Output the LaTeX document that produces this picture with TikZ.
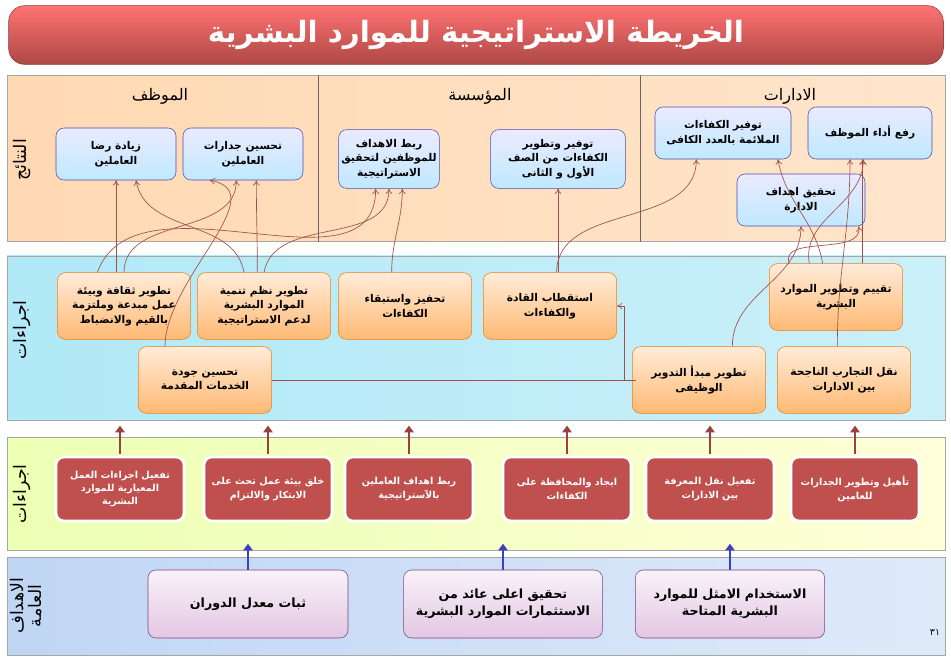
\documentclass[tikz,border=0pt]{standalone}
\usepackage{fontspec}
\usepackage{tikz}
\newfontfamily\arabicfont[Script=Arabic]{DejaVu Sans}
\TeXXeTstate=1
\newcommand{\rl}[1]{\beginR #1\endR}
\usetikzlibrary{arrows.meta}
\definecolor{hrred}{HTML}{C0504D}
\definecolor{hrlink}{HTML}{A0504A}
\definecolor{hrcyan}{HTML}{A8E6F6}
\definecolor{hrsky}{HTML}{BFD6F4}
\tikzset{
  band/.style={draw=gray!70, line width=0.6pt},
  boxtxt/.style={font=\arabicfont\bfseries\fontsize{8}{11}\selectfont, align=center, rounded corners=6pt, inner sep=2pt},
  resbox/.style={boxtxt, draw=blue!40!gray, top color=blue!8, bottom color=blue!35!cyan!25, minimum width=90pt, minimum height=39pt},
  actbox/.style={boxtxt, draw=orange!70!brown, top color=orange!15, bottom color=orange!55, minimum width=100pt, minimum height=50pt},
  inibox/.style={boxtxt, text=white, fill=hrred, draw=white, line width=2pt, minimum width=96pt, minimum height=48pt, font=\arabicfont\bfseries\fontsize{7.2}{10}\selectfont},
  goalbox/.style={boxtxt, draw=violet!50!gray, top color=violet!5, bottom color=violet!22, minimum height=51pt, font=\arabicfont\bfseries\fontsize{9.5}{13}\selectfont},
  bandlbl/.style={rotate=90, font=\arabicfont\fontsize{13}{14}\selectfont, align=center},
  link/.style={draw=hrlink, line width=0.5pt, -{To[length=4pt,width=5pt]}},
  upred/.style={draw=hrred!80!black, line width=2pt, -{Triangle[length=5pt,width=7pt]}},
  upblue/.style={draw=blue!50!gray, line width=2pt, -{Triangle[length=5pt,width=7pt]}},
}
\begin{document}
\begin{tikzpicture}[x=0.75pt, y=-0.75pt]
  \useasboundingbox (0,0) rectangle (951,659);
  % title
  \node[rounded corners=12pt, draw=hrred!70!black, top color=red!55, bottom color=hrred!90!black, minimum width=701pt, minimum height=44pt, text=white, font=\arabicfont\bfseries\fontsize{22}{26}\selectfont] (title) at (476,35) {\rl{الخريطة الاستراتيجية للموارد البشرية}};
  % bands
  \node[band, left color=orange!30, right color=orange!20, minimum width=704pt, minimum height=125pt] (resband) at (476.5,158.5) {};
  \node[band, left color=hrcyan!90, right color=hrcyan!60, minimum width=704pt, minimum height=123pt] (actband) at (476.5,338) {};
  \node[band, left color=lime!30, right color=yellow!15, minimum width=704pt, minimum height=85pt] (iniband) at (476.5,494) {};
  \node[band, left color=hrsky, right color=hrsky!50, minimum width=704pt, minimum height=74pt] (goalband) at (476.5,606.5) {};
  \draw[gray!80!black] (318,75) -- (318,242) (640,75) -- (640,242);
  \node[bandlbl] (lblres) at (22,160) {\rl{النتائج}};
  \node[bandlbl] (lblact) at (22,330) {\rl{اجراءات}};
  \node[bandlbl] (lblini) at (22,494) {\rl{اجراءات}};
  \node[bandlbl] (lblgoal) at (26,606) {\rl{الاهداف}\\\rl{العامة}};
  % headers
  \node[font=\arabicfont\fontsize{12}{14}\selectfont] (hemp) at (160,96) {\rl{الموظف}};
  \node[font=\arabicfont\fontsize{12}{14}\selectfont] (horg) at (480,96) {\rl{المؤسسة}};
  \node[font=\arabicfont\fontsize{12}{14}\selectfont] (hdep) at (790,96) {\rl{الادارات}};
  % results
  \node[resbox] (rsat) at (116,154) {\rl{زيادة رضا}\\\rl{العاملين}};
  \node[resbox] (rcomp) at (243,154) {\rl{تحسين جدارات}\\\rl{العاملين}};
  \node[resbox, minimum width=73pt, minimum height=44pt] (rlink) at (389,159) {\rl{ربط الاهداف}\\\rl{للموظفين لتحقيق}\\\rl{الاستراتيجية}};
  \node[resbox, minimum width=101pt, minimum height=44pt] (rdev) at (558,159) {\rl{توفير وتطوير}\\\rl{الكفاءات من الصف}\\\rl{الأول و الثانى}};
  \node[resbox, minimum width=102pt] (rfit) at (723,133) {\rl{توفير الكفاءات}\\\rl{الملائمة بالعدد الكافى}};
  \node[resbox, minimum width=93pt] (rperf) at (870,133) {\rl{رفع أداء الموظف}};
  \node[resbox, minimum width=96pt] (rdep) at (801,200) {\rl{تحقيق اهداف}\\\rl{الادارة}};
  % actions
  \node[actbox] (aculture) at (124,306) {\rl{تطوير ثقافة وبيئة}\\\rl{عمل مبدعة وملتزمة}\\\rl{بالقيم والانضباط}};
  \node[actbox] (asystem) at (264,306) {\rl{تطوير نظم تنمية}\\\rl{الموارد البشرية}\\\rl{لدعم الاستراتيجية}};
  \node[actbox] (amotiv) at (405,306) {\rl{تحفيز واستبقاء}\\\rl{الكفاءات}};
  \node[actbox] (aattract) at (550,306) {\rl{استقطاب القادة}\\\rl{والكفاءات}};
  \node[actbox] (aeval) at (836,297) {\rl{تقييم وتطوير الموارد}\\\rl{البشرية}};
  \node[actbox] (aquality) at (205,380) {\rl{تحسين جودة}\\\rl{الخدمات المقدمة}};
  \node[actbox] (arotate) at (699,380) {\rl{تطوير مبدأ التدوير}\\\rl{الوظيفى}};
  \node[actbox] (atransfer) at (844,380) {\rl{نقل التجارب الناجحة}\\\rl{بين الادارات}};
  % initiatives
  \node[inibox] (iqual) at (855,489) {\rl{تأهيل وتطوير الجدارات}\\\rl{للعامين}};
  \node[inibox] (iknow) at (710,489) {\rl{تفعيل نقل المعرفة}\\\rl{بين الادارات}};
  \node[inibox] (ikeep) at (567,489) {\rl{ايجاد والمحافظة على}\\\rl{الكفاءات}};
  \node[inibox] (ilink) at (409,489) {\rl{ربط اهداف العاملين}\\\rl{بالآستراتيجية}};
  \node[inibox] (iinnov) at (268,489) {\rl{خلق بيئة عمل تحث على}\\\rl{الابتكار والالتزام}};
  \node[inibox] (iproc) at (120,489) {\rl{تفعيل اجراءات العمل}\\\rl{المعيارية للموارد}\\\rl{البشرية}};
  \foreach \ini in {iqual, iknow, ikeep, ilink, iinnov, iproc}
    \draw[upred] (\ini.north) ++(0,-2) -- ++(0,-28);
  % goals
  \node[goalbox, minimum width=150pt] (gturn) at (248,604) {\rl{ثبات معدل الدوران}};
  \node[goalbox, minimum width=149pt] (greturn) at (503,604) {\rl{تحقيق اعلى عائد من}\\\rl{الاستثمارات الموارد البشرية}};
  \node[goalbox, minimum width=142pt] (guse) at (730,604) {\rl{الاستخدام الامثل للموارد}\\\rl{البشرية المتاحة}};
  \foreach \goal in {gturn, greturn, guse}
    \draw[upblue] (\goal.north) -- ++(0,-26);
  \node[font=\arabicfont\fontsize{7}{8}\selectfont] (pgno) at (935,633) {٣١};
  % links
  \draw[link] (aculture.north -| rsat.south) -- (rsat.south);
  \draw[link] (aculture.north) to[out=90, in=270] ([xshift=-5pt]rcomp.south);
  \draw[link] ([xshift=-20pt]aculture.north) to[out=70, in=270] ([xshift=-10pt]rlink.south);
  \draw[link] ([xshift=-15pt]asystem.north) to[out=100, in=280] ([xshift=15pt]rsat.south);
  \draw[link] ([xshift=-5pt]asystem.north) to[out=90, in=270] ([xshift=10pt]rcomp.south);
  \draw[link] (asystem.north) to[out=80, in=270] (rlink.south);
  \draw[link] ([xshift=-30pt]aquality.north) to[out=90, in=-10] ([xshift=25pt]rsat.south east);
  \draw[link] ([xshift=-10pt]amotiv.north) to[out=90, in=270] ([xshift=10pt]rlink.south);
  \draw[link] (aattract.north -| rdev.south) -- (rdev.south);
  \draw[link] ([xshift=5pt]aattract.north) to[out=90, in=270] ([xshift=-20pt]rfit.south);
  \draw[hrlink, line width=0.5pt] (aquality.east) -- (arotate.west);
  \draw[link] ([xshift=3pt]arotate.west) -- ++(-12,0) |- (aattract.east);
  \draw[link] ([xshift=25pt]arotate.north) to[out=90, in=270] (rdep.south);
  \draw[link] ([xshift=-20pt]aeval.north) to[out=100, in=270] ([xshift=-5pt]rperf.south);
  \draw[link] ([xshift=20pt]aeval.north) -- ([xshift=20pt]aeval.north |- rperf.south);
  \draw[link] ([xshift=-35pt]aeval.north) to[out=110, in=280] ([xshift=-5pt]rdep.south east);
  \draw[link] ([xshift=-10pt]aeval.north) to[out=100, in=280] ([xshift=-10pt]rfit.south east);
  \draw[link] ([xshift=-5pt]atransfer.north) to[out=90, in=270] ([xshift=-15pt]rperf.south);
\end{tikzpicture}
\end{document}
